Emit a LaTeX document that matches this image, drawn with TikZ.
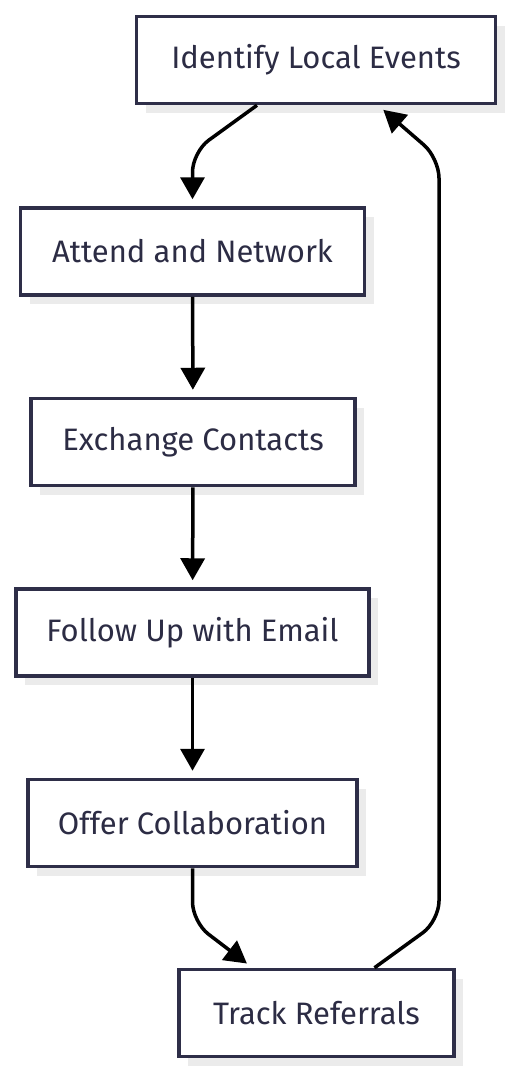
\documentclass[tikz,border=0pt]{standalone}
\usepackage{fontspec}
\setmainfont{Fira Sans}
\usetikzlibrary{arrows.meta,shadows}
\definecolor{boxline}{RGB}{46,46,72}
\definecolor{boxtext}{RGB}{44,44,68}

\begin{document}
\begin{tikzpicture}[x=1pt, y=-1pt,
    task/.style={draw=boxline, line width=3.5pt, fill=white, minimum height=87pt, font=\fontsize{31}{36}\selectfont, text=boxtext, drop shadow={shadow xshift=9pt, shadow yshift=-9pt, fill=black!8, opacity=1}},
    arr/.style={-{Triangle[length=22pt, width=24pt]}, line width=3.5pt, shorten >=7pt, rounded corners=20pt}
]
\useasboundingbox (0,0) rectangle (516,1080);

\node[task, minimum width=359pt] (ident) at (316,60) {Identify Local Events};
\node[task, minimum width=344pt] (attend) at (192.5,251.5) {Attend and Network};
\node[task, minimum width=324pt] (exch) at (193,442) {Exchange Contacts};
\node[task, minimum width=353pt] (follow) at (192.5,632.5) {Follow Up with Email};
\node[task, minimum width=329pt] (offer) at (192.5,823) {Offer Collaboration};
\node[task, minimum width=275pt] (track) at (316.5,1013) {Track Referrals};

% bend points
\coordinate (b1) at (192.5,152);
\coordinate (b2) at (192.5,922);
\coordinate (b3) at (439,921);
\coordinate (b4) at (439,158);

\draw[arr] ([xshift=-59pt]ident.south) -- (b1) -- (attend.north);
\draw[arr] (attend) -- (exch);
\draw[arr] (exch) -- (follow);
\draw[arr] (follow) -- (offer);
\draw[arr] (offer.south) -- (b2) -- ([xshift=-64pt]track.north);
\draw[arr] ([xshift=58pt]track.north) -- (b3) -- (b4) -- ([xshift=62pt]ident.south);
\end{tikzpicture}
\end{document}
